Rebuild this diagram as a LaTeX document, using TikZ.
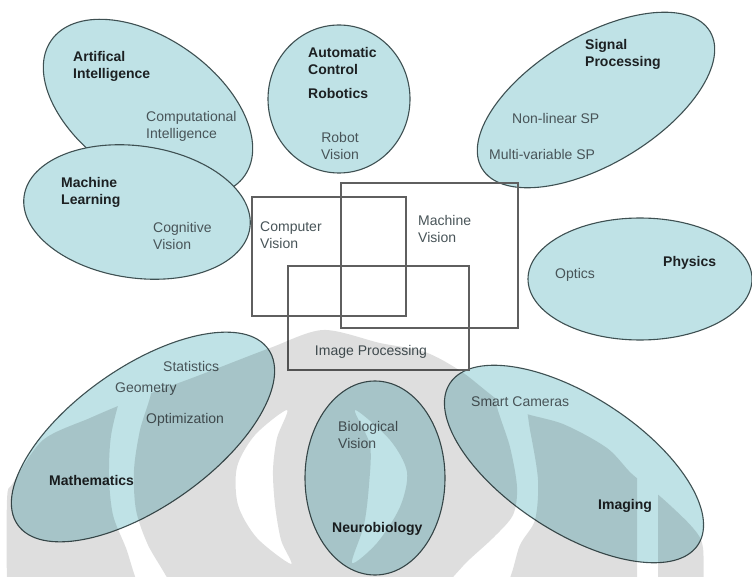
\documentclass[tikz,border=0pt]{standalone}
\usepackage{fontspec}
\setmainfont{Liberation Sans}
\usetikzlibrary{shapes.geometric}
\definecolor{fieldfill}{RGB}{191,226,230}
\definecolor{fieldline}{RGB}{62,80,82}
\definecolor{boxline}{RGB}{95,95,95}
\definecolor{subtext}{RGB}{72,84,88}
\definecolor{headtext}{RGB}{28,32,34}
\begin{document}
\begin{tikzpicture}[x=1pt,y=-1pt,
field/.style={ellipse,draw=fieldline,fill=fieldfill,line width=1.1pt,inner sep=0pt},
box/.style={rectangle,draw=boxline,line width=1.2pt,inner sep=0pt},
head/.style={font=\bfseries\fontsize{14}{17}\selectfont,text=headtext,align=left,inner sep=0pt},
sub/.style={font=\fontsize{14}{17}\selectfont,text=subtext,align=left,inner sep=0pt}]
\useasboundingbox (0,0) rectangle (752,577);
\fill[white] (0,0) rectangle (752,577);
\node[field,minimum width=236,minimum height=140,rotate=-35] (AI) at (148,108) {};
\node[field,minimum width=228,minimum height=132,rotate=-8] (ML) at (137,212) {};
\node[field,minimum width=142,minimum height=148] (RC) at (339,99) {};
\node[field,minimum width=266,minimum height=128,rotate=31] (SP) at (596,100) {};
\node[field,minimum width=224,minimum height=122] (PH) at (640,279) {};
\node[field,minimum width=306,minimum height=140,rotate=35] (MA) at (143,437) {};
\node[field,minimum width=140,minimum height=194] (NB) at (375,478) {};
\node[field,minimum width=296,minimum height=136,rotate=-33] (IM) at (574,464) {};
\node[box,minimum width=154,minimum height=119] (CV) at (329,256.5) {};
\node[box,minimum width=177,minimum height=145] (MV) at (429.5,255.5) {};
\node[box,minimum width=181,minimum height=104] (IP) at (378.5,318) {};
\node[head,anchor=west] (tAI) at (73,66.5) {Artifical\\Intelligence};
\node[sub,anchor=west] (tCI) at (146,126.5) {Computational\\Intelligence};
\node[head,anchor=west] (tML) at (61,192.5) {Machine\\Learning};
\node[sub,anchor=west] (tCoV) at (153,236) {Cognitive\\Vision};
\node[head,anchor=west] (tAC) at (308,61) {Automatic\\Control};
\node[head,anchor=west] (tRob) at (308,93) {Robotics};
\node[sub,align=center] (tRV) at (340,145.5) {Robot\\Vision};
\node[head,anchor=west] (tSP) at (585,54) {Signal\\Processing};
\node[sub,anchor=west] (tNL) at (512,118) {Non-linear SP};
\node[sub,anchor=west] (tMuV) at (489,154) {Multi-variable SP};
\node[head,anchor=west] (tPH) at (663,263) {Physics};
\node[sub,anchor=west] (tOP) at (555,275) {Optics};
\node[sub,anchor=west] (tCV) at (260,235.5) {Computer\\Vision};
\node[sub,anchor=west] (tMV) at (418,228.5) {Machine\\Vision};
\node[sub] (tIP) at (371,352) {Image Processing};
\node[sub,anchor=west] (tST) at (163,366) {Statistics};
\node[sub,anchor=west] (tGE) at (115,389) {Geometry};
\node[sub,anchor=west] (tOPT) at (146,420) {Optimization};
\node[head,anchor=west] (tMA) at (49,480) {Mathematics};
\node[sub,anchor=west] (tBV) at (338,435) {Biological\\Vision};
\node[head,anchor=west] (tNB) at (332,529) {Neurobiology};
\node[sub,anchor=west] (tSC) at (471,402) {Smart Cameras};
\node[head,anchor=west] (tIM) at (598,506) {Imaging};
\begin{scope}
\clip plot[smooth] coordinates {(7,600) (7,500) (13,483) (43,440) (90,418) (133,400) (200,375) (270,348) (323,330) (380,343) (425,352) (462,372) (510,408) (563,424) (607,448) (632,474) (662,498) (693,528) (703,548) (703,600)} -- cycle;
\fill[black,fill opacity=.13,even odd rule] (-20,300) rectangle (780,600)
  plot[smooth cycle] coordinates {(128,380) (112,430) (109,475) (113,515) (126,548) (142,590) (172,590) (148,545) (136,510) (134,470) (140,430) (152,385)}
  plot[smooth cycle] coordinates {(287,410) (255,435) (237,467) (238,505) (257,538) (291,564) (281,540) (275,505) (273,470) (277,438)}
  plot[smooth cycle] coordinates {(355,410) (390,440) (407,472) (400,507) (377,543) (352,563) (364,525) (369,485) (370,445)}
  plot[smooth cycle] coordinates {(495,395) (510,447) (517,487) (513,515) (493,538) (463,566) (448,590) (502,590) (520,545) (535,520) (538,480) (530,430) (522,395)}
  (637,470) rectangle (658,595);
\end{scope}
\end{tikzpicture}
\end{document}
